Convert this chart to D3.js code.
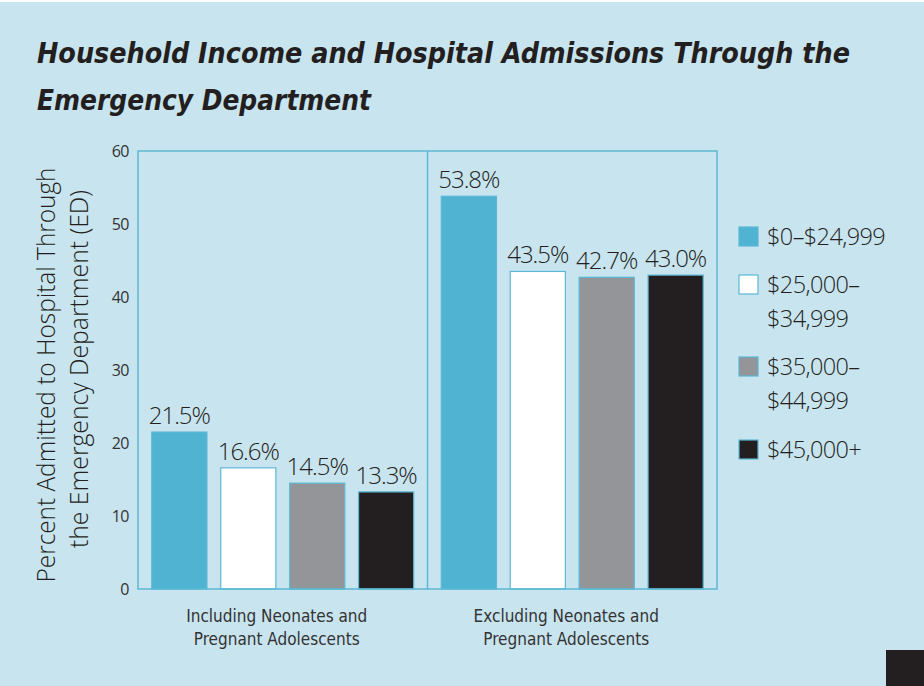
<!DOCTYPE html>
<html><head><meta charset="utf-8">
<script src="https://cdn.jsdelivr.net/npm/d3@7"></script>
<style>body{margin:0;background:#c8e4ef;} svg{display:block;}</style>
</head><body>
<script>
const groups = ["Including Neonates and\nPregnant Adolescents", "Excluding Neonates and\nPregnant Adolescents"];
const series = ["$0–$24,999", "$25,000–\n$34,999", "$35,000–\n$44,999", "$45,000+"];
const values = [
  [21.5, 16.6, 14.5, 13.3],
  [53.8, 43.5, 42.7, 43.0]
];
const yTicks = [0, 10, 20, 30, 40, 50, 60];
const colors = ["#4fb3d1", "#ffffff", "#939598", "#231f20"];
const titleLines = ["Household Income and Hospital Admissions Through the", "Emergency Department"];
const yTitle = ["Percent Admitted to Hospital Through", "the Emergency Department (ED)"];

(function () {
const W = 924, H = 686;
const svg = d3.select("body").append("svg").attr("width", W).attr("height", H);
svg.append("rect").attr("width", W).attr("height", H).attr("fill", "#c8e4ef");
svg.append("rect").attr("width", W).attr("height", 2).attr("fill", "#ffffff");

const pL = 138, pR = 717, pT = 151, pB = 589;
const x0 = d3.scaleBand().domain(groups).range([pL, pR]).padding(0);
const x1 = d3.scaleBand().domain(d3.range(series.length)).range([0, x0.bandwidth()]).paddingInner(0.2).paddingOuter(0.2);
const y = d3.scaleLinear().domain([0, 60]).range([pB, pT]);
const frame = "#5bb8d4";

// title
titleLines.forEach((t, i) => {
  svg.append("text").attr("x", 37).attr("y", 63 + i * 47)
    .attr("font-family", "'DejaVu Sans Condensed', 'DejaVu Sans', sans-serif")
    .attr("font-weight", "bold").attr("font-style", "italic")
    .attr("font-size", 29).attr("fill", "#231f20")
    .attr("textLength", i === 0 ? 813 : 334).attr("lengthAdjust", "spacingAndGlyphs")
    .text(t);
});

// bars
groups.forEach((grp, gi) => {
  values[gi].forEach((v, si) => {
    const bx = x0(grp) + x1(si);
    svg.append("rect").attr("x", bx).attr("y", y(v)).attr("width", x1.bandwidth())
      .attr("height", y(0) - y(v)).attr("fill", colors[si])
      .attr("stroke", frame).attr("stroke-width", 1.2);
    svg.append("text").attr("x", bx + x1.bandwidth() / 2).attr("y", y(v) - 8)
      .attr("text-anchor", "middle").attr("font-family", "'Open Sans', sans-serif")
      .attr("font-weight", 300).attr("font-size", 24).attr("letter-spacing", -1)
      .attr("fill", "#231f20").text(v.toFixed(1) + "%");
  });
  grp.split("\n").forEach((line, li) => {
    svg.append("text").attr("x", x0(grp) + x0.bandwidth() / 2 - 6).attr("y", 622 + li * 23)
      .attr("text-anchor", "middle").attr("font-family", "'DejaVu Sans Condensed', 'DejaVu Sans', sans-serif")
      .attr("font-size", 17).attr("fill", "#333").text(line);
  });
});

// frame
svg.append("rect").attr("x", pL).attr("y", pT).attr("width", pR - pL).attr("height", pB - pT)
  .attr("fill", "none").attr("stroke", frame).attr("stroke-width", 1.5);
svg.append("line").attr("x1", x0(groups[1])).attr("x2", x0(groups[1])).attr("y1", pT).attr("y2", pB)
  .attr("stroke", frame).attr("stroke-width", 1.5);

// y axis
const yAxis = svg.append("g").attr("transform", `translate(${pL},0)`)
  .call(d3.axisLeft(y).tickValues(yTicks).tickSize(0).tickPadding(9));
yAxis.select(".domain").remove();
yAxis.selectAll("text").attr("font-family", "'Open Sans', sans-serif").attr("font-size", 16)
  .attr("fill", "#333").attr("letter-spacing", -0.5);

// y title
const yT = [[55, 375, 415], [88, 369, 358]];
yTitle.forEach((t, i) => {
  svg.append("text").attr("transform", `translate(${yT[i][0]},${yT[i][1]}) rotate(-90)`)
    .attr("text-anchor", "middle").attr("font-family", "'Open Sans', sans-serif")
    .attr("font-weight", 300).attr("font-size", 26).attr("fill", "#231f20")
    .attr("textLength", yT[i][2]).attr("lengthAdjust", "spacingAndGlyphs").text(t);
});

// legend
const legY = [236, 284, 366, 449];
series.forEach((s, i) => {
  svg.append("rect").attr("x", 739).attr("y", legY[i] - 9).attr("width", 19).attr("height", 19)
    .attr("fill", colors[i]).attr("stroke", frame).attr("stroke-width", 1.2);
  s.split("\n").forEach((line, li) => {
    svg.append("text").attr("x", 767).attr("y", legY[i] + 9 + li * 34)
      .attr("font-family", "'Open Sans', sans-serif").attr("font-weight", 300)
      .attr("font-size", 23.5).attr("letter-spacing", -0.6).attr("fill", "#231f20").text(line);
  });
});

svg.append("rect").attr("x", 886).attr("y", 650).attr("width", 38).attr("height", 36).attr("fill", "#231f20");
})();
</script>
</body></html>
